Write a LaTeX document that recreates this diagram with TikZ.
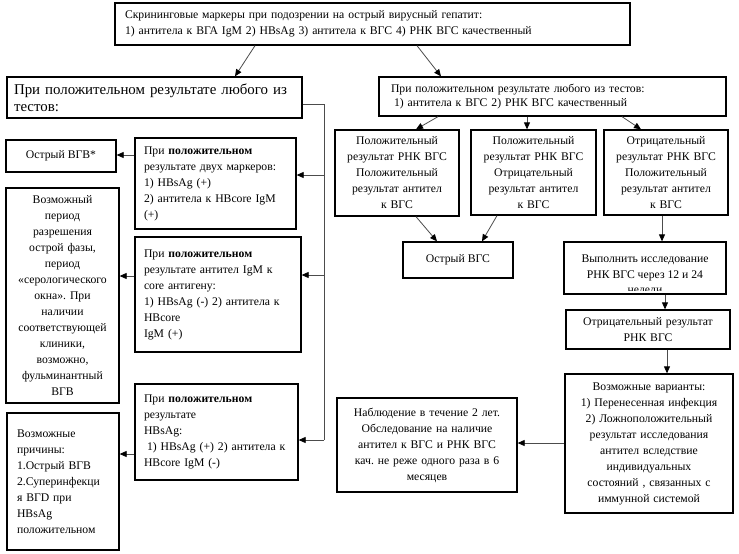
\documentclass[tikz,border=0pt]{standalone}
\usepackage{fontspec}
\setmainfont{Liberation Serif}
\frenchspacing
\usetikzlibrary{arrows.meta}
\newcommand\fsn{\fontsize{11.7}{16}\selectfont}
\newcommand\fsr{\fontsize{11.7}{14.5}\selectfont}
\newcommand\fsb{\fontsize{14.9}{17}\selectfont}
\begin{document}
\begin{tikzpicture}[x=1pt,y=-1pt,
  box/.style={draw=black, line width=1.3pt, inner sep=0pt, font=\fsn, align=center},
  lbox/.style={box, align=left},
  conn/.style={draw=black!70, line width=0.8pt, -{Triangle[length=7pt,width=6pt,color=black]}}]
\useasboundingbox (0,0) rectangle (739,554);
\fill[white] (0,0) rectangle (739,554);

% top
\node[lbox, minimum width=515pt, minimum height=42pt, text width=495pt, inner xsep=10pt] (top) at (372.5,24)
  {Скрининговые маркеры при подозрении на острый вирусный гепатит:\\1) антитела к ВГА IgM 2) HBsAg 3) антитела к ВГС 4) РНК ВГС качественный};

% second row
\node[lbox, font=\fsb, minimum width=295pt, minimum height=41pt, text width=281pt, inner xsep=7pt] (bigL) at (154.5,97.5)
  {При положительном результате любого из\\тестов:};
\node[lbox, font=\fsr, minimum width=347pt, minimum height=39pt, text width=323pt, inner xsep=12pt] (R) at (552.5,96.5)
  {При положительном результате любого из тестов:\\\hspace*{3pt}1) антитела к ВГС 2) РНК ВГС качественный};

% right column
\node[box, minimum width=124pt, minimum height=86pt, text width=122pt] (A) at (397,173)
  {Положительный\\результат РНК ВГС\\Положительный\\результат антител\\к ВГС};
\node[box, minimum width=125pt, minimum height=85pt, text width=123pt] (B) at (533.5,172.5)
  {Положительный\\результат РНК ВГС\\Отрицательный\\результат антител\\к ВГС};
\node[box, minimum width=124pt, minimum height=85pt, text width=122pt] (C) at (666,172.5)
  {Отрицательный\\результат РНК ВГС\\Положительный\\результат антител\\к ВГС};
\node[box, minimum width=110pt, minimum height=36pt] (OVGS) at (458,260) {Острый ВГС};

\node[box, minimum width=161pt, minimum height=52pt] (Vyp) at (645,268) {};
\begin{scope}
  \clip (Vyp.north west) rectangle (Vyp.east |- 0,290);
  \node[font=\fontsize{11.7}{15.5}\selectfont, align=center, inner sep=0pt] (VypT) at (645,275.5)
    {Выполнить исследование\\РНК ВГС через 12 и 24\\недели};
\end{scope}
\draw[line width=1.3pt] (Vyp.south west) rectangle (Vyp.north east);

\node[box, minimum width=164pt, minimum height=39pt, text width=160pt] (Otr) at (648,329.5)
  {Отрицательный результат\\РНК ВГС};
\node[box, minimum width=168pt, minimum height=139pt, text width=164pt] (Var) at (649,443.5)
  {Возможные варианты:\\1) Перенесенная инфекция\\2) Ложноположительный\\результат исследования\\антител вследствие\\индивидуальных\\состояний , связанных с\\иммунной системой};
\node[box, minimum width=180pt, minimum height=94pt, text width=176pt] (Nabl) at (427,445)
  {Наблюдение в течение 2 лет.\\Обследование на наличие\\антител к ВГС и РНК ВГС\\кач. не реже одного раза в 6\\месяцев};

% left column
\node[box, minimum width=110pt, minimum height=32pt] (OVGV) at (61,156) {Острый ВГВ*};
\node[lbox, minimum width=161pt, minimum height=91pt, text width=143pt, inner xsep=9pt] (Dvuh) at (215.5,183.5)
  {При \textbf{положительном}\\результате двух маркеров:\\1) HBsAg (+)\\2) антитела к HBcore IgM\\(+)};
\node[box, minimum width=113pt, minimum height=215pt, text width=111pt] (Vozm) at (62.5,295.5)
  {Возможный\\период\\разрешения\\острой фазы,\\период\\«серологического\\окна». При\\наличии\\соответствующей\\клиники,\\возможно,\\фульминантный\\ВГВ};
\node[lbox, minimum width=166pt, minimum height=115pt, text width=148pt, inner xsep=9pt] (IgM) at (218,294.5)
  {При \textbf{положительном}\\результате антител IgM к\\core антигену:\\1) HBsAg (-) 2) антитела к\\HBcore\\IgM (+)};
\node[lbox, minimum width=163pt, minimum height=96pt, text width=145pt, inner xsep=9pt] (HBs) at (216.5,432)
  {При \textbf{положительном}\\результате\\HBsAg:\\\hspace*{3pt}1) HBsAg (+) 2) антитела к\\HBcore IgM (-)};
\node[lbox, minimum width=112pt, minimum height=137pt, text width=92pt, inner xsep=10pt] (Prich) at (63,481.5)
  {Возможные\\причины:\\1.Острый ВГВ\\2.Суперинфекци\\я ВГD при\\HBsAg\\положительном\\[4pt]};

% connectors
\draw[conn] (255,0 |- top.south) -- (235,0 |- bigL.north);
\draw[conn] (417,0 |- top.south) -- (441,0 |- R.north);

\draw[draw=black!70, line width=0.8pt] (bigL.east |- 0,104) -- (324,104) -- (324,440);
\draw[conn] (324,440) -- (HBs.east |- 0,440);
\draw[conn] (324,175) -- (Dvuh.east |- 0,175);
\draw[conn] (324,275) -- (IgM.east |- 0,275);

\draw[conn] (Dvuh.west |- 0,155) -- (OVGV.east |- 0,155);
\draw[conn] (IgM.west |- 0,276) -- (Vozm.east |- 0,276);
\draw[conn] (HBs.west |- 0,454) -- (Prich.east |- 0,454);

\draw[conn] (438,0 |- R.south) -- (416,0 |- A.north);
\draw[conn] (527,0 |- R.south) -- (527,0 |- B.north);
\draw[conn] (622,0 |- R.south) -- (641,0 |- C.north);

\draw[conn] (416,0 |- A.south) -- (437,0 |- OVGS.north);
\draw[conn] (497,0 |- B.south) -- (482,0 |- OVGS.north);

\draw[conn] (662,0 |- C.south) -- (662,0 |- Vyp.north);
\draw[conn] (665,0 |- Vyp.south) -- (665,0 |- Otr.north);
\draw[conn] (667,0 |- Otr.south) -- (667,0 |- Var.north);
\draw[conn] (Var.west |- 0,443) -- (Nabl.east |- 0,443);
\end{tikzpicture}
\end{document}
